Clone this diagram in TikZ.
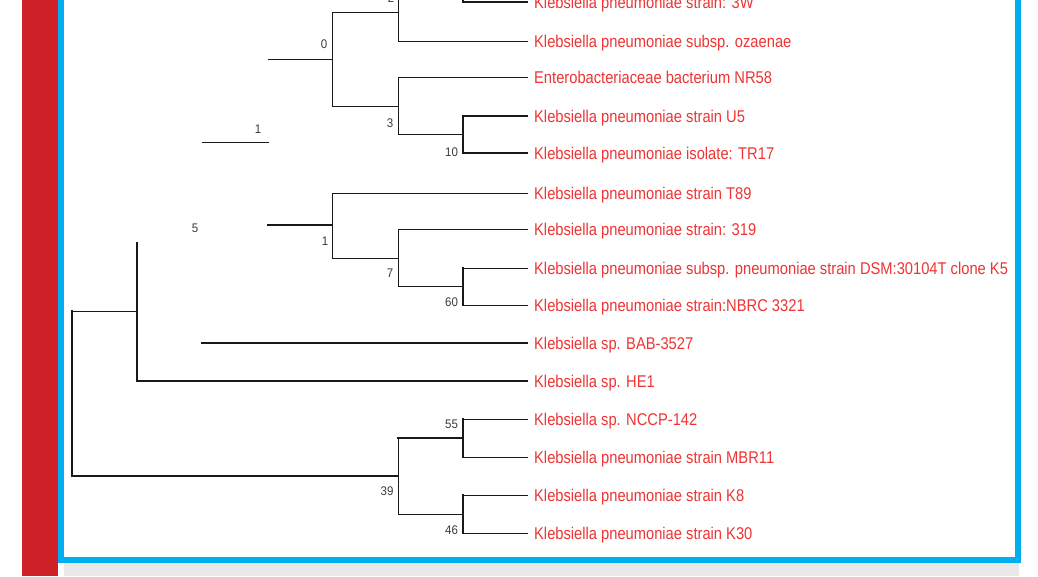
\documentclass[tikz,border=0pt]{standalone}
\usepackage{fontspec}
\setmainfont{Liberation Sans}
\definecolor{barred}{RGB}{207,33,40}
\definecolor{frameblue}{RGB}{0,173,239}
\definecolor{labred}{RGB}{238,52,52}
\definecolor{capgrey}{RGB}{232,232,232}
\definecolor{numgrey}{RGB}{60,60,60}
\definecolor{branch}{RGB}{25,25,25}
\tikzset{
  thinbr/.style={draw=branch, line width=1pt, line cap=rect},
  midbr/.style={draw=branch, line width=1.6pt, line cap=rect},
  boldbr/.style={draw=branch, line width=2.4pt, line cap=rect},
  lab/.style={anchor=base west, inner sep=0pt, text=labred, font=\fontsize{17}{20}\selectfont, xscale=0.865},
  num/.style={text=numgrey, inner sep=0pt, font=\fontsize{12.5}{14}\selectfont, xscale=0.92}
}
\begin{document}
\begin{tikzpicture}[x=1pt,y=-1pt]
\useasboundingbox (0,0) rectangle (1038,576);
\clip (0,0) rectangle (1038,576);
% frame
\fill[white] (0,0) rectangle (1038,576);
\fill[barred] (22,0) rectangle (58,576);
\fill[frameblue] (58,0) rectangle (64,563);
\fill[frameblue] (1015,0) rectangle (1021,563);
\fill[frameblue] (58,557) rectangle (1021,563);
\fill[capgrey] (64,563) rectangle (1019,576);

% leaf ends
\coordinate (tHid) at (527,-36);
\coordinate (t3W) at (527,2);
\coordinate (tOza) at (527,41);
\coordinate (tNR) at (527,77);
\coordinate (tU5) at (527,116);
\coordinate (tTR) at (527,153);
\coordinate (tT89) at (527,193);
\coordinate (t319) at (527,229);
\coordinate (tDSM) at (527,268);
\coordinate (tNBRC) at (527,305);
\coordinate (tBAB) at (527,343);
\coordinate (tHE) at (527,381);
\coordinate (tNCCP) at (527,419);
\coordinate (tMBR) at (527,457);
\coordinate (tK8) at (527,495);
\coordinate (tK30) at (527,533);

% labels
\node[lab] (L3W) at (534,8) {Klebsiella pneumoniae strain: 3W};
\node[lab] (LOza) at (534,47) {Klebsiella pneumoniae subsp. ozaenae};
\node[lab] (LNR) at (534,83) {Enterobacteriaceae bacterium NR58};
\node[lab] (LU5) at (534,122) {Klebsiella pneumoniae strain U5};
\node[lab] (LTR) at (534,159) {Klebsiella pneumoniae isolate: TR17};
\node[lab] (LT89) at (534,199) {Klebsiella pneumoniae strain T89};
\node[lab] (L319) at (534,235) {Klebsiella pneumoniae strain: 319};
\node[lab] (LDSM) at (534,274) {Klebsiella pneumoniae subsp. pneumoniae strain DSM:30104T clone K5};
\node[lab] (LNBRC) at (534,311) {Klebsiella pneumoniae strain:NBRC 3321};
\node[lab] (LBAB) at (534,349) {Klebsiella sp. BAB-3527};
\node[lab] (LHE) at (534,387) {Klebsiella sp. HE1};
\node[lab] (LNCCP) at (534,425) {Klebsiella sp. NCCP-142};
\node[lab] (LMBR) at (534,463) {Klebsiella pneumoniae strain MBR11};
\node[lab] (LK8) at (534,501) {Klebsiella pneumoniae strain K8};
\node[lab] (LK30) at (534,539) {Klebsiella pneumoniae strain K30};

% internal nodes
\coordinate (nTop) at (463,-17);
\coordinate (n2) at (398,12);
\coordinate (n0) at (332,59);
\coordinate (s0) at (268,59);
\coordinate (n3) at (398,106);
\coordinate (n10) at (463,134.5);
\coordinate (n1) at (332,225);
\coordinate (s1) at (268,225);
\coordinate (n7) at (398,258);
\coordinate (n60) at (463,286.5);
\coordinate (n5top) at (137,243);
\coordinate (n5) at (137,311);
\coordinate (sBAB) at (202,343);
\coordinate (root) at (72,393.5);
\coordinate (n39) at (398,476);
\coordinate (n55) at (463,438);
\coordinate (n46) at (463,514);
\coordinate (sbL) at (202,142);
\coordinate (sbR) at (268,142);

% upper clade
\path[boldbr] (nTop |- tHid) -- (nTop |- t3W);
\path[boldbr] (nTop |- t3W) -- (t3W);
\path[thinbr] (nTop |- tHid) -- (tHid);
\path[thinbr] (n2 |- nTop) -- (n2 |- tOza);
\path[thinbr] (n2 |- nTop) -- (nTop);
\path[thinbr] (n2 |- tOza) -- (tOza);
\path[thinbr] (n0 |- n2) -- (n0 |- n3);
\path[thinbr] (s0) -- (n0);
\path[thinbr] (n0 |- n2) -- (n2);
\path[thinbr] (n0 |- n3) -- (n3);
\path[thinbr] (n3 |- tNR) -- (n3 |- n10);
\path[thinbr] (n3 |- tNR) -- (tNR);
\path[thinbr] (n3 |- n10) -- (n10);
\path[boldbr] (n10 |- tU5) -- (n10 |- tTR);
\path[boldbr] (n10 |- tU5) -- (tU5);
\path[boldbr] (n10 |- tTR) -- (tTR);
% scale bar
\path[thinbr] (sbL) -- (sbR);

% middle clade
\path[boldbr] (s1) -- (n1);
\path[thinbr] (n1 |- tT89) -- (n1 |- n7);
\path[thinbr] (n1 |- tT89) -- (tT89);
\path[thinbr] (n1 |- n7) -- (n7);
\path[thinbr] (n7 |- t319) -- (n7 |- n60);
\path[thinbr] (n7 |- t319) -- (t319);
\path[thinbr] (n7 |- n60) -- (n60);
\path[boldbr] (n60 |- tDSM) -- (n60 |- tNBRC);
\path[thinbr] (n60 |- tDSM) -- (tDSM);
\path[thinbr] (n60 |- tNBRC) -- (tNBRC);

\path[boldbr] (n5top) -- (n5 |- tHE);
\path[boldbr] (n5 |- tHE) -- (tHE);
\path[boldbr] (sBAB) -- (tBAB);

% root and lower clade
\path[midbr] (root |- n5) -- (root |- n39);
\path[thinbr] (root |- n5) -- (n5);
\path[boldbr] (root |- n39) -- (n39);
\path[thinbr] (n39 |- n55) -- (n39 |- n46);
\path[boldbr] (n39 |- n55) -- (n55);
\path[thinbr] (n39 |- n46) -- (n46);
\path[boldbr] (n55 |- tNCCP) -- (n55 |- tMBR);
\path[thinbr] (n55 |- tNCCP) -- (tNCCP);
\path[thinbr] (n55 |- tMBR) -- (tMBR);
\path[boldbr] (n46 |- tK8) -- (n46 |- tK30);
\path[thinbr] (n46 |- tK8) -- (tK8);
\path[thinbr] (n46 |- tK30) -- (tK30);

% support values
\node[num] (v2) at (391,-2) {2};
\node[num] (v0) at (324,44) {0};
\node[num] (v3) at (390,123) {3};
\node[num] (v10) at (451.5,152) {10};
\node[num] (vsb) at (258,129) {1};
\node[num] (v1) at (325,241) {1};
\node[num] (v5) at (195,228) {5};
\node[num] (v7) at (390,273) {7};
\node[num] (v60) at (451.5,302) {60};
\node[num] (v55) at (451.5,424) {55};
\node[num] (v39) at (387,491) {39};
\node[num] (v46) at (451.5,530) {46};
\end{tikzpicture}
\end{document}
